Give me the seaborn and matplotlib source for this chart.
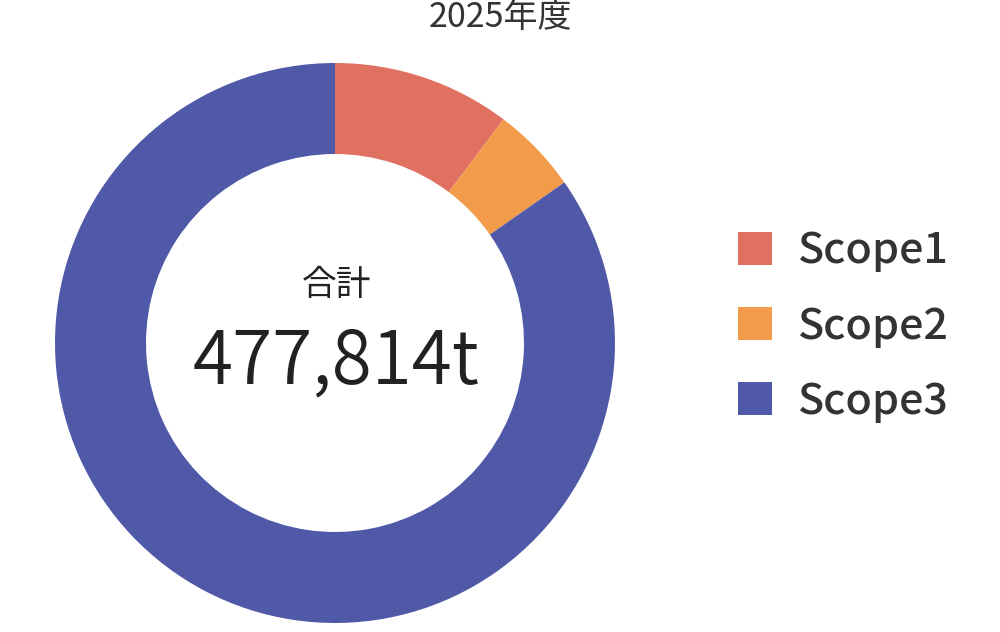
import matplotlib
matplotlib.use("Agg")
import matplotlib.pyplot as plt
import seaborn as sns

categories = ["Scope1", "Scope2", "Scope3"]
values = [49100, 23900, 404814]
colors = ["#E07060", "#F29B4B", "#5059A8"]
title = "2025年度"
center_label = "合計"
center_value = "477,814t"

sns.set_theme(style="white")
plt.rcParams['font.family'] = ['Noto Sans CJK JP', 'DejaVu Sans']

W, H = 1000, 632
fig = plt.figure(figsize=(W / 100, H / 100), dpi=100)
fig.patch.set_facecolor("white")

cx, cy, R = 335, 343, 280
ax = fig.add_axes([(cx - R) / W, (H - cy - R) / H, 2 * R / W, 2 * R / H])
wedges, _ = ax.pie(values, colors=colors, startangle=90, counterclock=False,
                   radius=1.0, wedgeprops=dict(width=0.325, edgecolor="none"))
ax.set_aspect("equal")
ax.set_xlim(-1, 1)
ax.set_ylim(-1, 1)
ax.axis("off")

ax.text(0.005, (cy - 286) / R, center_label, ha="center", va="center",
        fontsize=25, color="#222222")
ax.text(0.005, (cy - 362) / R, center_value, ha="center", va="center",
        fontsize=52.5, color="#222222", fontweight=350)

fig.text(0.5, 1 - 18 / H, title, ha="center", va="center", fontsize=24.5,
         color="#333333")

fig.legend(wedges, categories, loc="center left",
           bbox_to_anchor=(738 / W, 1 - 326 / H), frameon=False,
           prop=dict(size=31, weight="medium"),
           handlelength=0.8, handleheight=0.8,
           handletextpad=0.58, labelspacing=0.75, borderpad=0,
           borderaxespad=0, labelcolor="#333333")

fig.savefig("out.png", dpi=100, facecolor="white")
